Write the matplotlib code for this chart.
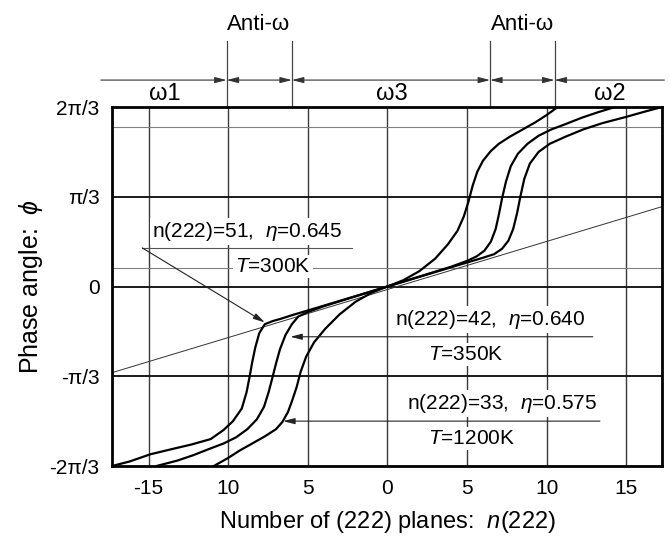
import matplotlib
matplotlib.use("Agg")
import matplotlib.pyplot as plt
from matplotlib.transforms import blended_transform_factory

plt.rcParams['font.family'] = ['Liberation Sans', 'DejaVu Sans']
plt.rcParams['mathtext.fontset'] = 'custom'
plt.rcParams['mathtext.rm'] = 'Liberation Sans'
plt.rcParams['mathtext.it'] = 'Liberation Sans:italic'
plt.rcParams['mathtext.fallback'] = 'stixsans'

# ---------------- data (phase in units of pi/3) ----------------
x_ticks = [-15, -10, -5, 0, 5, 10, 15]
x_ticklabels = ["-15", "10", "5", "0", "5", "10", "15"]
y_ticks = [-2, -1, 0, 1, 2]
y_ticklabels = ["-2π/3", "-π/3", "0", "π/3", "2π/3"]

# n(222)=33, T=1200K (inner curve)
c33_x = [-10.9, -10.0, -9.3, -8.5, -7.7, -7.0, -6.6, -6.25, -6.0, -5.7, -5.45, -5.1, -4.6, -3.9, -3.0, -2.0, -1.0, 0.0,
         1.0, 2.0, 3.0, 3.8, 4.4, 4.8, 5.1, 5.35, 5.65, 6.0, 6.5, 7.0, 7.7, 8.5, 9.3, 10.0, 10.7]
c33_y = [-2.0, -1.91, -1.83, -1.75, -1.67, -1.59, -1.51, -1.40, -1.28, -1.12, -0.95, -0.78, -0.62, -0.47, -0.31, -0.17, -0.07, 0.0,
         0.07, 0.17, 0.31, 0.47, 0.62, 0.78, 0.95, 1.12, 1.28, 1.40, 1.51, 1.59, 1.67, 1.75, 1.83, 1.91, 2.0]

# n(222)=42, T=350K (middle curve)
c42_x = [-14.5, -13.2, -12.2, -11.2, -10.3, -9.5, -8.8, -8.2, -7.75, -7.45, -7.2, -7.0, -6.75, -6.4, -6.0, -5.6, -5.0, -4.0, -2.0, 0.0,
         2.0, 4.0, 5.0, 5.6, 6.1, 6.5, 6.8, 7.0, 7.2, 7.45, 7.75, 8.2, 8.8, 9.5, 10.3, 11.2, 12.2, 13.2, 14.3]
c42_y = [-2.0, -1.94, -1.88, -1.81, -1.75, -1.68, -1.59, -1.48, -1.34, -1.17, -1.0, -0.86, -0.70, -0.54, -0.42, -0.335, -0.285, -0.22, -0.11, 0.0,
         0.11, 0.22, 0.285, 0.335, 0.40, 0.50, 0.64, 0.80, 0.98, 1.17, 1.34, 1.48, 1.59, 1.68, 1.75, 1.81, 1.88, 1.94, 2.0]

# n(222)=51, T=300K (outer curve)
c51_x = [-17.3, -16.2, -14.9, -13.5, -12.3, -11.1, -10.3, -9.7, -9.15, -8.85, -8.65, -8.5, -8.3, -8.05, -7.7, -7.2, -6.7, -6.0, -4.0, -2.0, 0.0,
         2.0, 4.0, 6.0, 6.7, 7.2, 7.6, 7.9, 8.15, 8.35, 8.6, 8.95, 9.5, 10.2, 11.2, 12.3, 13.5, 15.0, 16.2, 17.25]
c51_y = [-2.0, -1.95, -1.87, -1.81, -1.76, -1.70, -1.60, -1.50, -1.36, -1.18, -1.0, -0.85, -0.68, -0.52, -0.42, -0.385, -0.36, -0.32, -0.214, -0.107, 0.0,
         0.107, 0.214, 0.32, 0.36, 0.42, 0.51, 0.64, 0.82, 1.0, 1.20, 1.37, 1.50, 1.59, 1.67, 1.75, 1.82, 1.89, 1.95, 2.0]

# thin straight reference line
line_x = [-17.3, 17.25]
line_y = [-0.96, 0.89]

# thin horizontal plateau lines
plateau_y = [0.21, 1.78]

# region boundaries (top scale)
bounds = [-10.1, -6.0, 6.45, 10.5]
region_labels = ["ω1", "ω3", "ω2"]
region_x = [-14.0, 0.3, 14.0]
anti_labels = ["Anti-ω", "Anti-ω"]
anti_x = [-8.1, 8.5]

# ---------------- figure ----------------
fig = plt.figure(figsize=(6.7, 5.41), dpi=100)
ax = fig.add_axes([112/670, 1-466/541, 550/670, 359/541])
ax.set_xlim(-17.3, 17.25)
ax.set_ylim(-2, 2)

for x in x_ticks:
    ax.axvline(x, color='#3a3a3a', lw=1.0, zorder=1)
for y in [-1, 0, 1]:
    ax.axhline(y, color='#1a1a1a', lw=1.4, zorder=1)
for y in plateau_y:
    ax.axhline(y, color='#808080', lw=0.8, zorder=1)

ax.plot(line_x, line_y, color='#333333', lw=0.7, zorder=2)

for cx, cy in [(c33_x, c33_y), (c42_x, c42_y), (c51_x, c51_y)]:
    ax.plot(cx, cy, color='black', lw=1.6, zorder=4, solid_capstyle='round', solid_joinstyle='round')

for s in ax.spines.values():
    s.set_linewidth(2.0)
    s.set_zorder(6)

ax.set_xticks(x_ticks)
ax.set_xticklabels(x_ticklabels)
ax.set_yticks(y_ticks)
ax.set_yticklabels(y_ticklabels)
ax.tick_params(length=0, labelsize=15)
ax.tick_params(axis='x', pad=9)
ax.tick_params(axis='y', pad=9)

box = dict(facecolor='white', edgecolor='none', pad=1.5)
tfs = 15
# annotation n=51
ax.text(-8.8, 0.61, "n(222)=51,  $\\eta$=0.645", ha='center', va='center', fontsize=tfs, bbox=box, zorder=3)
ax.text(-7.2, 0.22, "$T$=300K", ha='center', va='center', fontsize=tfs, bbox=box, zorder=3)
ax.plot([-15.4, -2.2], [0.43, 0.43], color='#555555', lw=0.8, zorder=5)
arrow = dict(arrowstyle='-|>,head_length=0.7,head_width=0.18', color='#222222', lw=0.8,
             shrinkA=0, shrinkB=0)
ax.annotate('', xy=(-7.7, -0.40), xytext=(-15.4, 0.43), arrowprops=arrow, zorder=5)
# annotation n=42
ax.text(6.45, -0.37, "n(222)=42,  $\\eta$=0.640", ha='center', va='center', fontsize=tfs, bbox=box, zorder=3)
ax.text(4.9, -0.76, "$T$=350K", ha='center', va='center', fontsize=tfs, bbox=box, zorder=3)
ax.annotate('', xy=(-6.1, -0.56), xytext=(12.9, -0.56), arrowprops=arrow, zorder=5)
# annotation n=33
ax.text(7.2, -1.30, "n(222)=33,  $\\eta$=0.575", ha='center', va='center', fontsize=tfs, bbox=box, zorder=3)
ax.text(5.3, -1.69, "$T$=1200K", ha='center', va='center', fontsize=tfs, bbox=box, zorder=3)
ax.annotate('', xy=(-6.55, -1.50), xytext=(13.35, -1.50), arrowprops=arrow, zorder=5)

# ---------------- top region scale ----------------
trans = blended_transform_factory(ax.transData, ax.transAxes)
for b in bounds:
    ax.plot([b, b], [1.0, 1.184], transform=trans, clip_on=False, color='#444444', lw=0.9)
yrow = 1.075
head = 'head_length=0.7,head_width=0.18'
segs = [(-18.0, bounds[0], '-|>'), (bounds[0], bounds[1], '<|-|>'), (bounds[1], bounds[2], '<|-|>'),
        (bounds[2], bounds[3], '<|-|>'), (17.4, bounds[3], '-|>')]
for x0, x1, st in segs:
    ax.annotate('', xy=(x1, yrow), xytext=(x0, yrow), xycoords=trans, textcoords=trans,
                arrowprops=dict(arrowstyle=st + ',' + head, color='#333333', lw=0.8,
                                shrinkA=0, shrinkB=0), annotation_clip=False)
for lab, x in zip(region_labels, region_x):
    ax.text(x, 1.006, lab, transform=trans, ha='center', va='bottom', fontsize=17, clip_on=False)
for lab, x in zip(anti_labels, anti_x):
    ax.text(x, 1.231, lab, transform=trans, ha='center', va='center', fontsize=16, clip_on=False)

fig.text(31/670, 1-287/541, "Phase angle:  $\\phi$", rotation=90, ha='center', va='center', fontsize=18)
fig.text(387/670, 1-522/541, "Number of (222) planes:  $n$(222)", ha='center', va='center', fontsize=17)

fig.savefig("out.png", dpi=100)
